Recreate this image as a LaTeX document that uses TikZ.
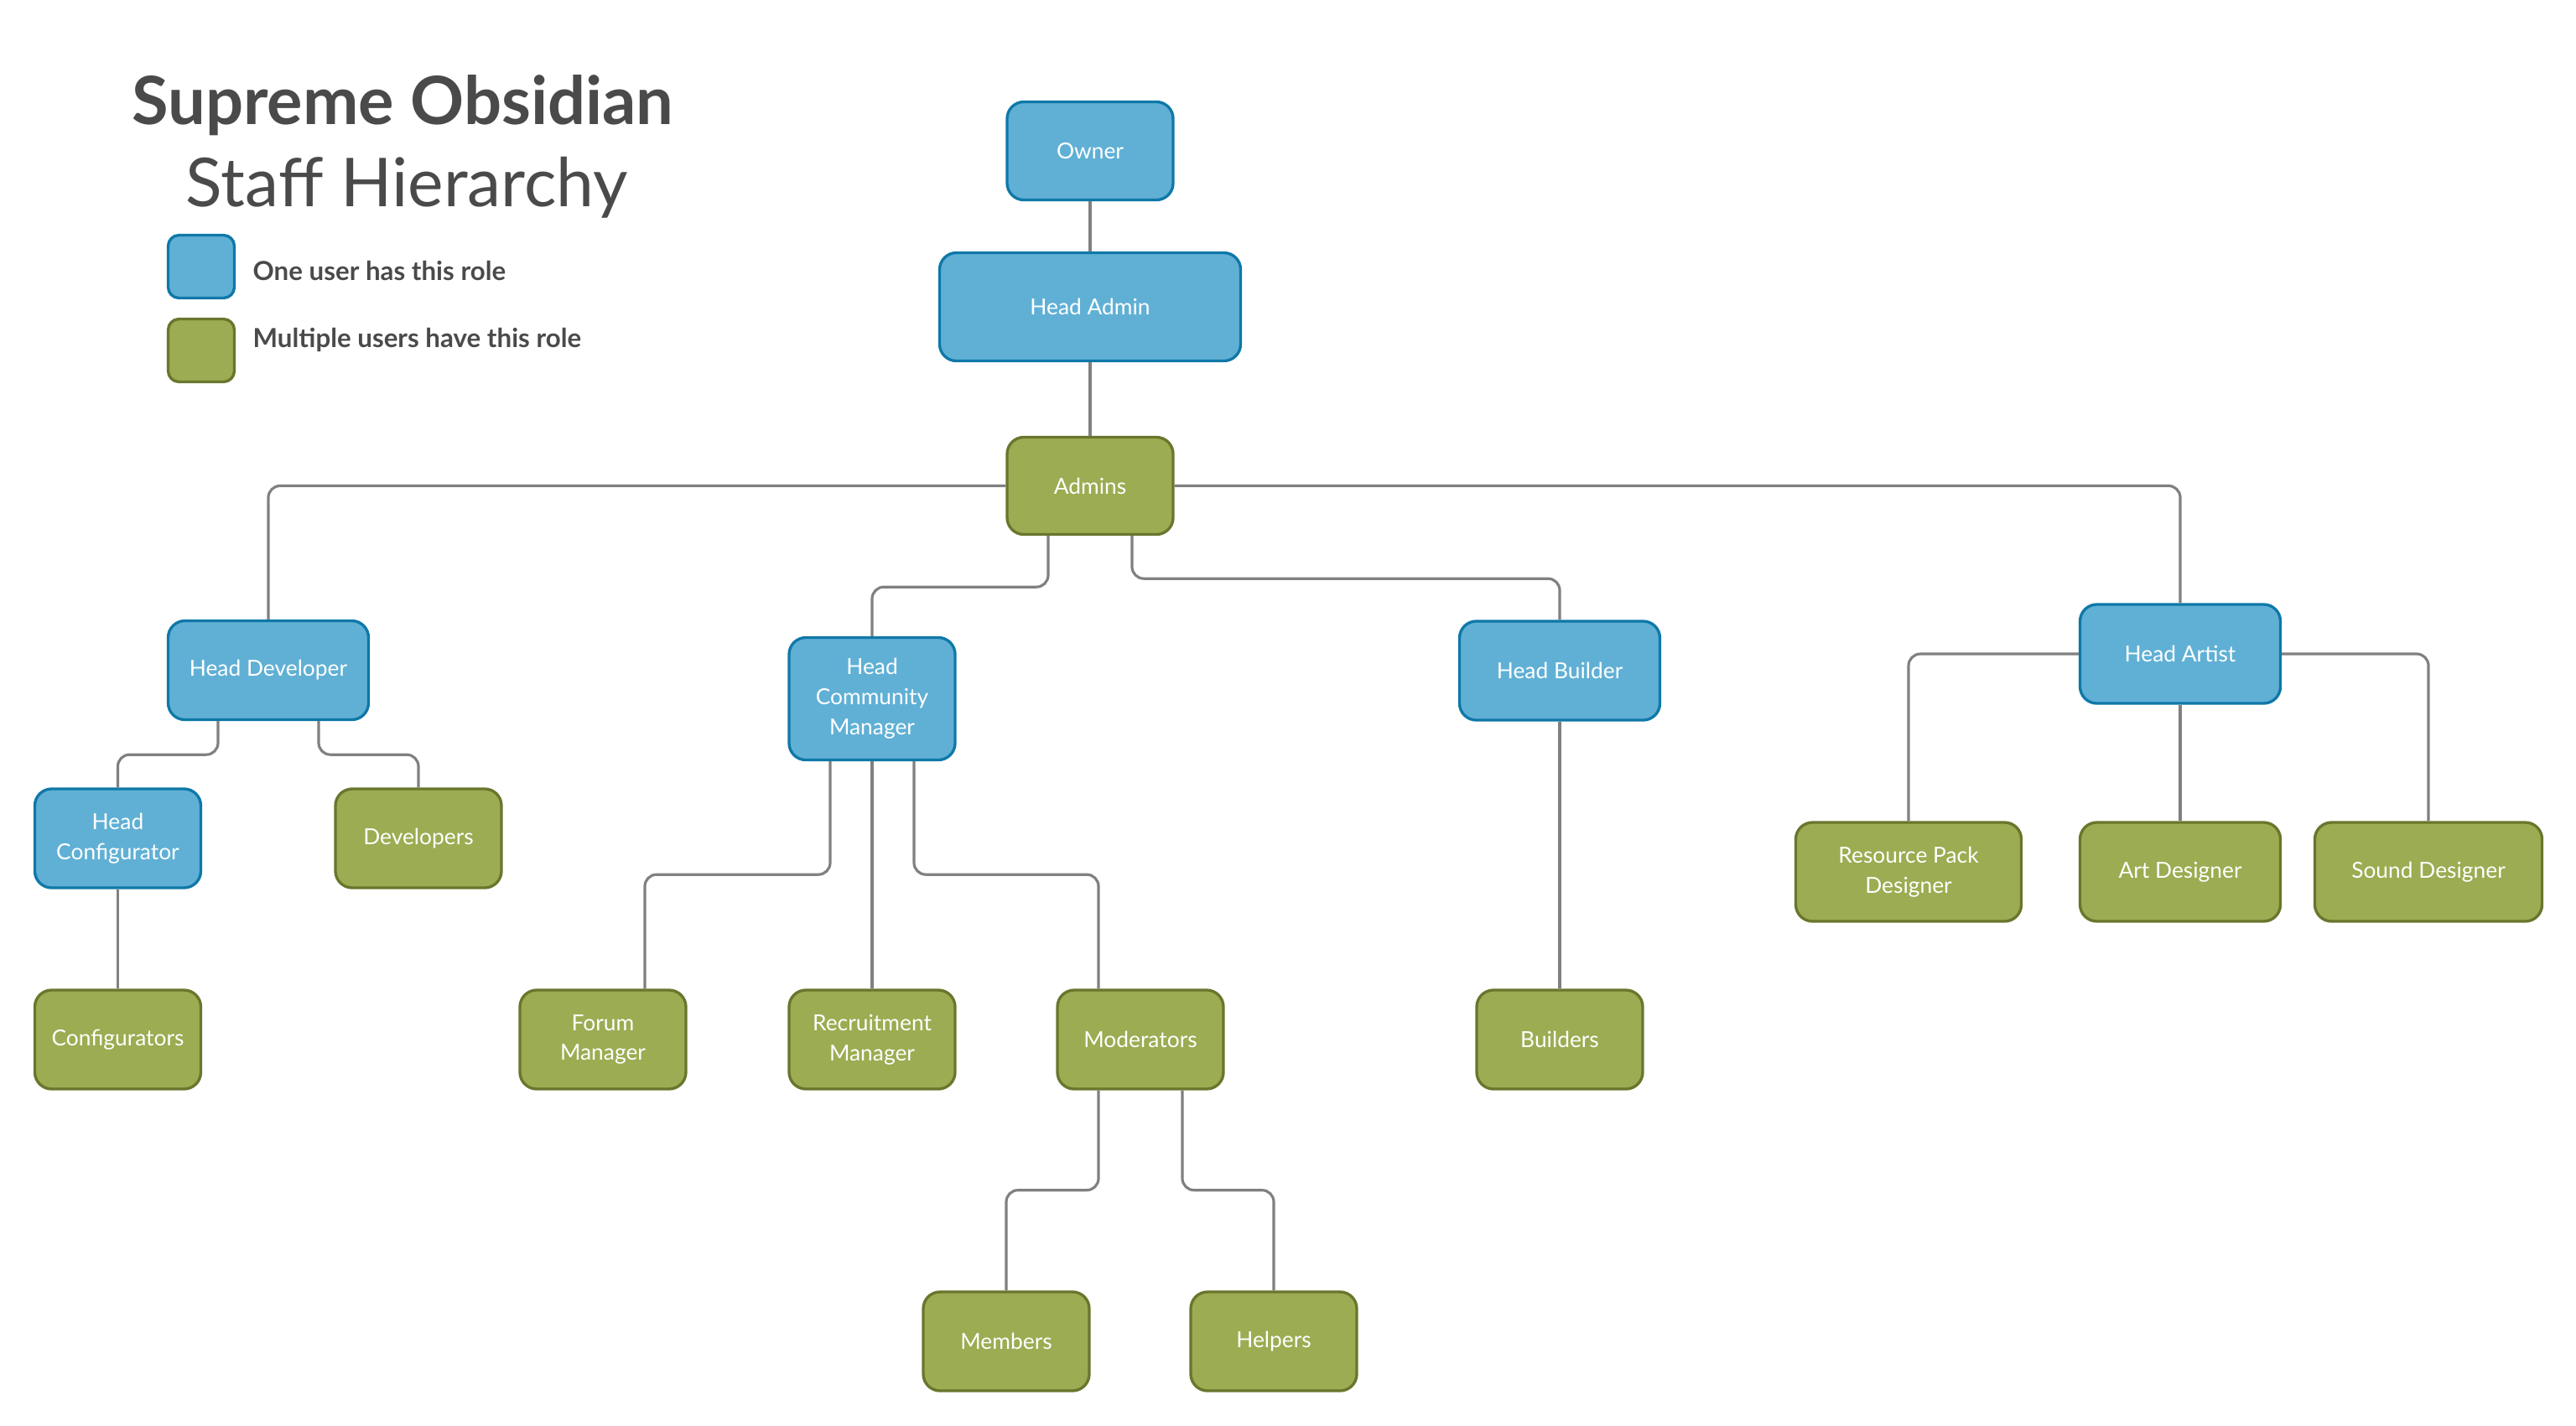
\documentclass[tikz,border=0pt]{standalone}
\usepackage{fontspec}
\setmainfont{Lato}
\usetikzlibrary{calc}
\definecolor{leadfill}{HTML}{60B0D5}
\definecolor{leaddraw}{HTML}{0F78A8}
\definecolor{crewfill}{HTML}{9BAC52}
\definecolor{crewdraw}{HTML}{69762D}
\definecolor{linkgray}{HTML}{808080}
\definecolor{inkgray}{HTML}{4A4A4A}
\newcommand{\boxfont}{\fontsize{7.5}{10.2}\selectfont}

\begin{document}
\begin{tikzpicture}[
  lead/.style={rectangle, rounded corners=0.2cm, draw=leaddraw, fill=leadfill, line width=0.95pt,
    text=white, font=\boxfont, align=center, inner sep=0pt, minimum width=1.98cm, minimum height=1.18cm},
  crew/.style={lead, draw=crewdraw, fill=crewfill},
  link/.style={draw=linkgray, line width=0.9pt, rounded corners=0.14cm},
  keybox/.style={rounded corners=0.13cm, minimum width=0.79cm, minimum height=0.75cm},
  legtext/.style={anchor=base west, inner sep=0pt, text=inkgray, font=\fontsize{8.9}{11}\selectfont\bfseries}]
  \useasboundingbox (0,0) rectangle (30.72,-17);
  \node[anchor=base, text=inkgray, font=\fontsize{22.6}{27}\selectfont\bfseries] (ttl) at (4.805,-1.48) {Supreme Obsidian};
  \node[anchor=base, text=inkgray, font=\fontsize{22.9}{27}\selectfont] (sub) at (4.855,-2.46) {Staff Hierarchy};
  \node[lead, keybox] (keyone) at (2.40,-3.18) {};
  \node[crew, keybox] (keymany) at (2.40,-4.18) {};
  \node[legtext] (keyonetxt) at (3.01,-3.34) {One user has this role};
  \node[legtext] (keymanytxt) at (3.01,-4.14) {Multiple users have this role};

  \node[lead, minimum height=1.17cm] (owner) at (13.00,-1.80) {Owner};
  \node[lead, minimum width=3.59cm, minimum height=1.29cm] (hadmin) at (13.00,-3.66) {Head Admin};
  \node[crew, minimum height=1.16cm] (admins) at (13.00,-5.795) {Admins};

  \node[lead, minimum width=2.39cm] (hdev) at (3.20,-7.995) {Head Developer};
  \node[lead, minimum height=1.46cm] (hcm) at (10.40,-8.335) {Head\\Community\\Manager};
  \node[lead, minimum width=2.39cm] (hbuild) at (18.60,-8.00) {Head Builder};
  \node[lead, minimum width=2.39cm] (hart) at (26.00,-7.80) {Head Artist};

  \node[lead] (hconf) at (1.405,-10.00) {Head\\Configurator};
  \node[crew] (devs) at (4.99,-10.00) {Developers};
  \node[crew, minimum width=2.69cm] (rpd) at (22.76,-10.40) {Resource Pack\\Designer};
  \node[crew, minimum width=2.39cm] (artd) at (26.00,-10.40) {Art Designer};
  \node[crew, minimum width=2.71cm] (sound) at (28.96,-10.40) {Sound Designer};

  \node[crew] (confs) at (1.405,-12.40) {Configurators};
  \node[crew] (forum) at (7.19,-12.40) {Forum\\Manager};
  \node[crew] (recruit) at (10.40,-12.40) {Recruitment\\Manager};
  \node[crew] (mods) at (13.60,-12.40) {Moderators};
  \node[crew] (builders) at (18.60,-12.40) {Builders};

  \node[crew] (members) at (12.00,-16.00) {Members};
  \node[crew] (helpers) at (15.19,-16.00) {Helpers};

  \begin{scope}[on background layer/.try]
  \draw[link] (owner) -- (hadmin);
  \draw[link] (hadmin) -- (admins);
  \draw[link] (admins.west) -| (hdev.north);
  \draw[link] (admins.east) -| (hart.north);
  \draw[link] ([xshift=-5mm]admins.south) -- ++(0,-0.61) -| (hcm.north);
  \draw[link] ([xshift=5mm]admins.south) -- ++(0,-0.51) -| (hbuild.north);
  \draw[link] ([xshift=-6mm]hdev.south) -- ++(0,-0.40) -| (hconf.north);
  \draw[link] ([xshift=6mm]hdev.south) -- ++(0,-0.40) -| (devs.north);
  \draw[link] (hconf) -- (confs);
  \draw[link] ([xshift=-5mm]hcm.south) -- ++(0,-1.35) -| ([xshift=5mm]forum.north);
  \draw[link] (hcm) -- (recruit);
  \draw[link] ([xshift=5mm]hcm.south) -- ++(0,-1.35) -| ([xshift=-5mm]mods.north);
  \draw[link] (hbuild) -- (builders);
  \draw[link] (hart.west) -| (rpd.north);
  \draw[link] (hart) -- (artd);
  \draw[link] (hart.east) -| (sound.north);
  \draw[link] ([xshift=-5mm]mods.south) -- ++(0,-1.19) -| (members.north);
  \draw[link] ([xshift=5mm]mods.south) -- ++(0,-1.19) -| (helpers.north);
  \end{scope}
\end{tikzpicture}
\end{document}
